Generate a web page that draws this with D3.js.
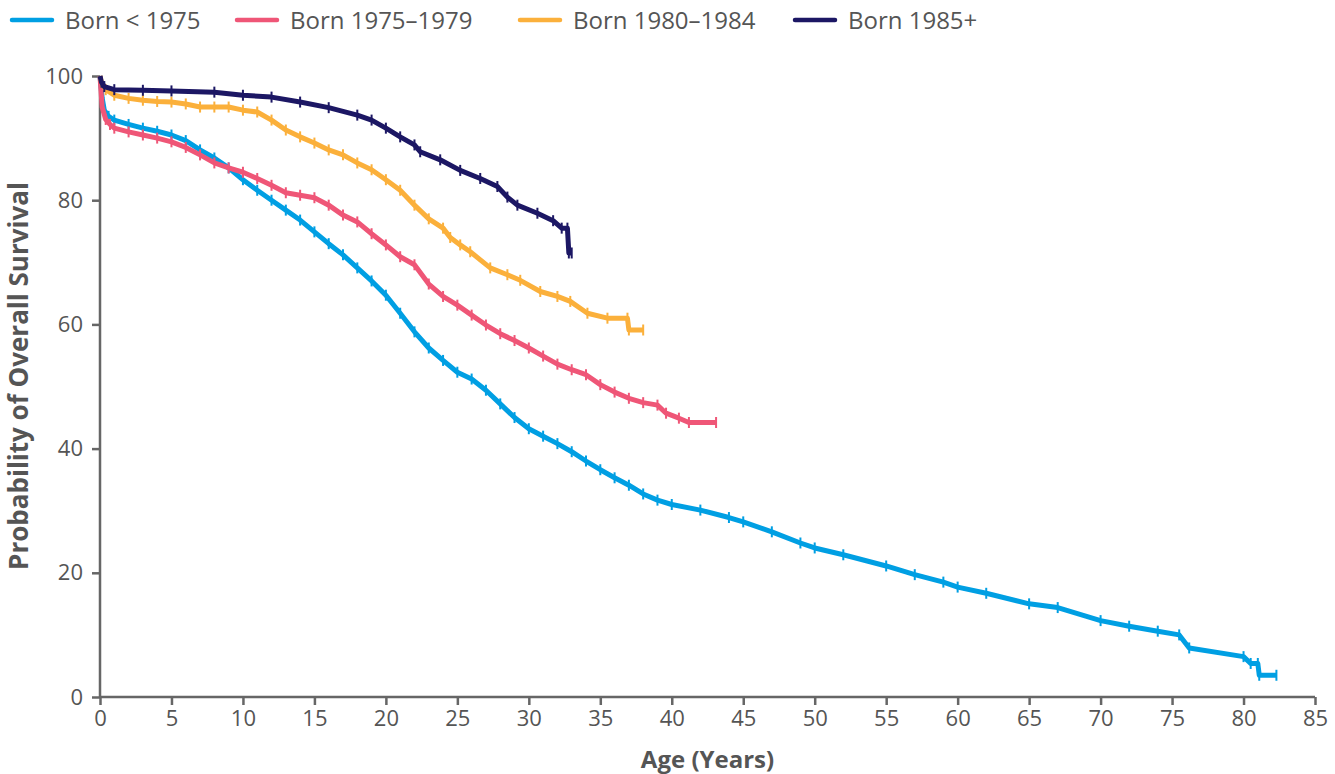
<!DOCTYPE html>
<html>
<head>
<meta charset="utf-8">
<script src="https://cdn.jsdelivr.net/npm/d3@7"></script>
<style>
  html, body { margin: 0; padding: 0; background: #fff; }
  svg { display: block; font-family: "Open Sans", "Noto Sans", sans-serif; }
</style>
</head>
<body>
<svg id="chart" width="1335" height="774"></svg>
<script>
// ---- Data ----
const seriesNames = ["Born < 1975", "Born 1975\u20131979", "Born 1980\u20131984", "Born 1985+"];
const seriesColors = ["#009fe3", "#ef5677", "#fbb03b", "#1c1764"];

const ageBornBefore1975 = [0, 0.15, 0.3, 0.6, 1, 2, 3, 4, 5, 6, 7, 8, 9, 10, 11, 12, 13, 14, 15, 16, 17, 18, 19, 20, 21, 22, 23, 24, 25, 26, 27, 28, 29, 30, 31, 32, 33, 34, 35, 36, 37, 38, 39, 40, 42, 44, 45, 47, 49, 50, 52, 55, 57, 59, 60, 62, 65, 67, 70, 72, 74, 75.5, 76.2, 80, 80.5, 81, 81.1, 82.3];
const survBornBefore1975 = [100, 96.5, 94.5, 93.5, 92.9, 92.2, 91.6, 91.1, 90.5, 89.6, 88.1, 86.8, 85.2, 83.3, 81.6, 80.0, 78.4, 76.8, 74.9, 73.0, 71.2, 69.1, 67.0, 64.7, 61.8, 58.8, 56.2, 54.2, 52.3, 51.2, 49.4, 47.2, 45.0, 43.2, 42.0, 40.8, 39.5, 38.0, 36.6, 35.3, 34.1, 32.7, 31.7, 31.0, 30.1, 28.9, 28.2, 26.6, 24.8, 24.0, 22.9, 21.1, 19.7, 18.5, 17.7, 16.7, 15.0, 14.4, 12.3, 11.4, 10.6, 10.0, 7.9, 6.5, 5.4, 5.4, 3.5, 3.5];

const ageBorn1975to1979 = [0, 0.15, 0.4, 0.7, 1, 2, 3, 4, 5, 6, 7, 8, 9, 10, 11, 12, 13, 14, 15, 16, 17, 18, 19, 20, 21, 22, 23, 24, 25, 26, 27, 28, 29, 30, 31, 32, 33, 34, 35, 36, 37, 38, 39, 39.6, 40.5, 41.2, 43.1];
const survBorn1975to1979 = [100, 95, 93, 92.2, 91.6, 91.0, 90.5, 90.0, 89.4, 88.5, 87.3, 86.0, 85.2, 84.5, 83.5, 82.4, 81.2, 80.8, 80.4, 79.2, 77.6, 76.5, 74.6, 72.8, 70.9, 69.6, 66.5, 64.5, 63.1, 61.5, 59.9, 58.5, 57.4, 56.2, 54.9, 53.6, 52.7, 51.9, 50.3, 49.1, 48.1, 47.4, 47.0, 45.7, 44.9, 44.2, 44.2];

const ageBorn1980to1984 = [0, 0.1, 0.4, 1, 2, 3, 4, 5, 6, 7, 8, 9, 10, 11, 12, 13, 14, 15, 16, 17, 18, 19, 20, 21, 22, 23, 24, 24.5, 25.2, 25.9, 27.3, 28.5, 29.4, 30.8, 32, 32.9, 34.1, 35.5, 36.9, 37.0, 38.0];
const survBorn1980to1984 = [100, 99, 97.8, 96.9, 96.4, 96.1, 95.9, 95.8, 95.5, 95.0, 95.0, 95.0, 94.5, 94.2, 92.9, 91.3, 90.2, 89.2, 88.1, 87.3, 86.0, 84.9, 83.3, 81.6, 79.2, 77.0, 75.5, 74.0, 72.8, 71.7, 69.1, 68.0, 67.1, 65.3, 64.5, 63.7, 61.8, 61.0, 61.0, 59.1, 59.1];

const ageBorn1985plus = [0, 0.1, 0.3, 1, 3, 5, 8, 10, 12, 14, 16, 18, 19, 20, 21, 22, 22.4, 23.8, 25.2, 26.6, 27.8, 28.5, 29.2, 30.6, 31.7, 32.3, 32.7, 32.8, 33.0];
const survBorn1985plus = [100, 99, 98.3, 97.8, 97.7, 97.6, 97.4, 96.9, 96.6, 95.8, 94.9, 93.7, 92.9, 91.6, 90.2, 88.9, 87.8, 86.5, 84.8, 83.5, 82.2, 80.5, 79.2, 77.9, 76.7, 75.5, 75.5, 71.5, 71.5];

const xTicks = [0, 5, 10, 15, 20, 25, 30, 35, 40, 45, 50, 55, 60, 65, 70, 75, 80, 85];
const yTicks = [0, 20, 40, 60, 80, 100];
const xTitle = "Age (Years)";
const yTitle = "Probability of Overall Survival";

const seriesAges = [ageBornBefore1975, ageBorn1975to1979, ageBorn1980to1984, ageBorn1985plus];
const seriesSurv = [survBornBefore1975, survBorn1975to1979, survBorn1980to1984, survBorn1985plus];

// ---- Layout ----
const svg = d3.select("#chart");
const mLeft = 100, mRight = 1315, mTop = 76, mBottom = 697;
const x = d3.scaleLinear().domain([0, 85]).range([mLeft, mRight]);
const y = d3.scaleLinear().domain([0, 100]).range([mBottom, mTop]);
const axisColor = "#666";
const textColor = "#555";

// Axes
const xAxis = svg.append("g").attr("transform", `translate(0,${mBottom})`)
  .call(d3.axisBottom(x).tickValues(xTicks).tickSize(8).tickPadding(5).tickFormat(d3.format("d")));
const yAxis = svg.append("g").attr("transform", `translate(${mLeft},0)`)
  .call(d3.axisLeft(y).tickValues(yTicks).tickSize(8).tickPadding(9).tickFormat(d3.format("d")));
[xAxis, yAxis].forEach(g => {
  g.select(".domain").attr("stroke", axisColor).attr("stroke-width", 2.5);
  g.selectAll(".tick line").attr("stroke", axisColor).attr("stroke-width", 2.5);
  g.selectAll(".tick text").attr("fill", textColor).style("font-size", "22px").style("font-family", "'Open Sans', sans-serif");
});
xAxis.select(".domain").attr("d", `M${mLeft},0H${mRight}`);
yAxis.select(".domain").attr("d", `M0,${mTop}V${mBottom}`);

svg.append("text")
  .attr("x", (mLeft + mRight) / 2).attr("y", 768)
  .attr("text-anchor", "middle")
  .attr("fill", textColor).attr("font-weight", 700).style("font-size", "24px")
  .text(xTitle);
svg.append("text")
  .attr("transform", `translate(28,376) rotate(-90)`)
  .attr("text-anchor", "middle")
  .attr("fill", textColor).attr("font-weight", 700).style("font-size", "26px")
  .text(yTitle);

// Curves
const line = d3.line().x(d => x(d[0])).y(d => y(d[1])).curve(d3.curveLinear);
seriesAges.forEach((ages, i) => {
  const pts = ages.map((a, j) => [a, seriesSurv[i][j]]);
  const g = svg.append("g");
  g.append("path").datum(pts)
    .attr("d", line)
    .attr("fill", "none")
    .attr("stroke", seriesColors[i])
    .attr("stroke-width", 5)
    .attr("stroke-linejoin", "round");
  g.selectAll("line.c").data(pts.slice(1)).enter().append("line")
    .attr("x1", d => x(d[0])).attr("x2", d => x(d[0]))
    .attr("y1", d => y(d[1]) - 5.5).attr("y2", d => y(d[1]) + 5.5)
    .attr("stroke", seriesColors[i]).attr("stroke-width", 2);
});

// Legend
const legendX = [12, 237, 520, 795];
const legend = svg.append("g");
seriesNames.forEach((name, i) => {
  legend.append("line")
    .attr("x1", legendX[i]).attr("x2", legendX[i] + 40)
    .attr("y1", 20).attr("y2", 20)
    .attr("stroke", seriesColors[i]).attr("stroke-width", 4.5).attr("stroke-linecap", "round");
  legend.append("text")
    .attr("x", legendX[i] + 53).attr("y", 29)
    .attr("fill", textColor).style("font-size", "24px")
    .text(name);
});
</script>
</body>
</html>
